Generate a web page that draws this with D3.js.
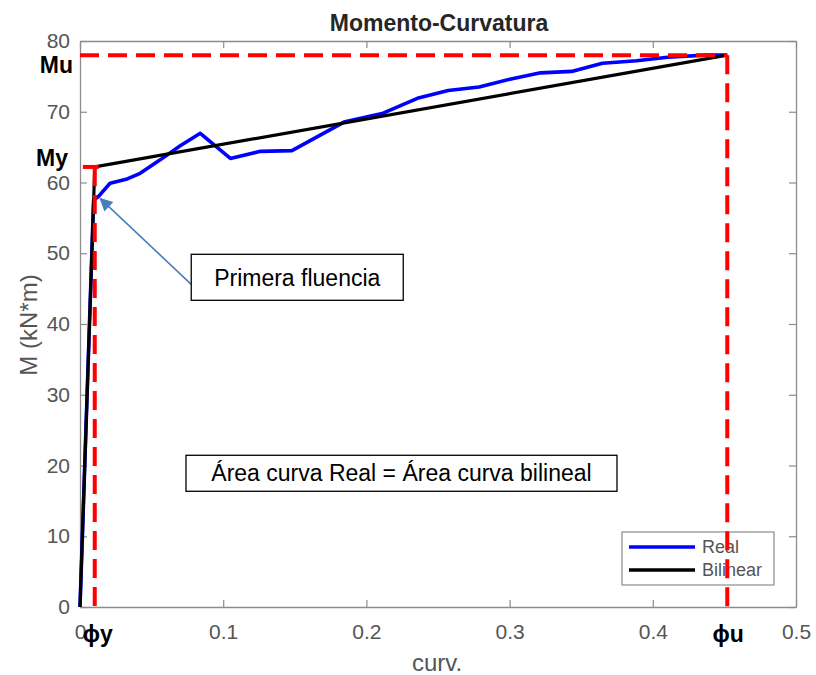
<!DOCTYPE html>
<html>
<head>
<meta charset="utf-8">
<script src="https://cdn.jsdelivr.net/npm/d3@7"></script>
<style>
  html, body { margin: 0; padding: 0; background: #fff; }
  svg { display: block; }
</style>
</head>
<body>
<svg id="chart" width="816" height="675"></svg>
<script>
// Moment–curvature response (real) and its bilinear idealisation
const realCurv = [0, 0.0095, 0.0128, 0.021, 0.033, 0.042, 0.056, 0.07, 0.084, 0.105, 0.126, 0.148,
  0.185, 0.2117, 0.2356, 0.2571, 0.2787, 0.3002, 0.3217, 0.3433, 0.3648, 0.3887, 0.4103, 0.4366, 0.452];
const realMoment = [0, 57.5, 58.0, 59.9, 60.5, 61.3, 63.2, 65.2, 66.95, 63.4, 64.4, 64.5,
  68.6, 69.8, 71.9, 73.0, 73.5, 74.6, 75.5, 75.7, 76.85, 77.2, 77.7, 78.0, 78.0];

const phiY = 0.0103, My = 62.2;   // yield point of the bilinear model
const phiU = 0.452, Mu = 78;      // ultimate point
const bilinCurv = [0, phiY, phiU];
const bilinMoment = [0, My, Mu];

const firstYield = [0.0128, 58.0]; // first yield of the real curve

const xTicks = [0, 0.1, 0.2, 0.3, 0.4, 0.5];
const yTicks = [0, 10, 20, 30, 40, 50, 60, 70, 80];

const svg = d3.select("#chart");
const m = { left: 80, top: 41, right: 20, bottom: 68 };
const W = 816 - m.left - m.right, H = 675 - m.top - m.bottom;

const x = d3.scaleLinear().domain([0, 0.5]).range([m.left, m.left + W]);
const y = d3.scaleLinear().domain([0, 80]).range([m.top + H, m.top]);

const axisGray = "#8c8c8c", labelGray = "#555";
const font = "'Liberation Sans', Arial, Helvetica, sans-serif";

// Title
svg.append("text").attr("x", x(0.25) + 1).attr("y", 31)
  .attr("text-anchor", "middle").attr("font-family", font)
  .attr("font-weight", "bold").attr("font-size", 23).attr("fill", "#262626")
  .text("Momento-Curvatura");

// Axes with inward ticks on all four sides
const tickLen = 7;
const g = svg.append("g");
const xAx = g.append("g").attr("transform", `translate(0,${y(0)})`)
  .call(d3.axisBottom(x).tickValues(xTicks).tickSizeInner(-tickLen).tickSizeOuter(0).tickPadding(0)
    .tickFormat(d => d === 0 ? "0" : d3.format(".1f")(d)));
xAx.selectAll(".tick text").attr("dy", null).attr("y", 32);
g.append("g").attr("transform", `translate(0,${y(80)})`)
  .call(d3.axisTop(x).tickValues(xTicks).tickSizeInner(-tickLen).tickSizeOuter(0).tickFormat(""));
g.append("g").attr("transform", `translate(${x(0)},0)`)
  .call(d3.axisLeft(y).tickValues(yTicks).tickSizeInner(-tickLen).tickSizeOuter(0).tickPadding(10));
g.append("g").attr("transform", `translate(${x(0.5)},0)`)
  .call(d3.axisRight(y).tickValues(yTicks).tickSizeInner(-tickLen).tickSizeOuter(0).tickFormat(""));
g.selectAll(".domain").attr("stroke", axisGray).attr("stroke-width", 1.3);
g.selectAll(".tick line").attr("stroke", axisGray).attr("stroke-width", 1.2);
g.selectAll(".tick text").attr("fill", labelGray).attr("font-family", font).attr("font-size", 21);

// Axis labels
svg.append("text").attr("x", x(0.25) - 1).attr("y", 671)
  .attr("text-anchor", "middle").attr("font-family", font).attr("font-size", 24).attr("fill", labelGray)
  .text("curv.");
svg.append("text").attr("transform", `translate(37,${y(40) + 1}) rotate(-90)`)
  .attr("text-anchor", "middle").attr("font-family", font).attr("font-size", 24).attr("fill", labelGray)
  .text("M (kN*m)");

// Curves
const line = d3.line().x(d => x(d[0])).y(d => y(d[1]));
const realPts = realCurv.map((c, i) => [c, realMoment[i]]);
const bilinPts = bilinCurv.map((c, i) => [c, bilinMoment[i]]);

svg.append("path").datum(realPts).attr("d", line)
  .attr("fill", "none").attr("stroke", "#0000ff").attr("stroke-width", 3.6).attr("stroke-linejoin", "round");
svg.append("path").datum(bilinPts).attr("d", line)
  .attr("fill", "none").attr("stroke", "#000").attr("stroke-width", 3.2).attr("stroke-linejoin", "round");

// Legend
const legend = svg.append("g").attr("transform", "translate(622,532)");
legend.append("rect").attr("width", 152).attr("height", 53).attr("fill", "#fff")
  .attr("stroke", "#8c8c8c").attr("stroke-width", 1.2);
[["Real", "#0000ff"], ["Bilinear", "#000"]].forEach(([name, col], i) => {
  const yy = 15 + i * 23;
  legend.append("line").attr("x1", 7).attr("x2", 73).attr("y1", yy).attr("y2", yy)
    .attr("stroke", col).attr("stroke-width", 3.4);
  legend.append("text").attr("x", 80).attr("y", yy + 6).attr("font-family", font)
    .attr("font-size", 18).attr("fill", labelGray).text(name);
});

// Reference lines for yield and ultimate points
const red = "#ff0000";
svg.append("line").attr("x1", x(0)).attr("x2", x(phiU)).attr("y1", y(Mu)).attr("y2", y(Mu))
  .attr("stroke", red).attr("stroke-width", 4).attr("stroke-dasharray", "19,9");
svg.append("line").attr("x1", x(phiU)).attr("x2", x(phiU)).attr("y1", y(Mu)).attr("y2", y(0))
  .attr("stroke", red).attr("stroke-width", 4).attr("stroke-dasharray", "19,9");
svg.append("line").attr("x1", x(0.002)).attr("x2", x(phiY) + 4).attr("y1", y(My)).attr("y2", y(My))
  .attr("stroke", red).attr("stroke-width", 4);
svg.append("line").attr("x1", x(phiY)).attr("x2", x(phiY)).attr("y1", y(My)).attr("y2", y(0))
  .attr("stroke", red).attr("stroke-width", 4).attr("stroke-dasharray", "19,9");

// Point labels
function label(txt, px, py, anchor) {
  svg.append("text").attr("x", px).attr("y", py).attr("text-anchor", anchor)
    .attr("font-family", font).attr("font-weight", "bold").attr("font-size", 23).attr("fill", "#000")
    .text(txt);
}
label("Mu", x(0) - 7, y(Mu) + 18, "end");
label("My", x(0) - 12, y(My) - 1, "end");
label("ϕy", x(phiY) + 3, 642, "middle");
label("ϕu", x(phiU) + 1, 642, "middle");

// Annotation: first yield
const boxA = { cx: 0.1517, cy: 46.6, w: 212, h: 46 };
const arrowCol = "#4a7ebb";
svg.append("defs").append("marker").attr("id", "arrowhead")
  .attr("markerUnits", "userSpaceOnUse").attr("viewBox", "0 0 10 10").attr("refX", 9).attr("refY", 5)
  .attr("markerWidth", 15).attr("markerHeight", 13).attr("orient", "auto")
  .append("path").attr("d", "M0,0 L10,5 L0,10 z").attr("fill", arrowCol);
svg.append("line")
  .attr("x1", x(boxA.cx) - boxA.w / 2).attr("y1", y(boxA.cy) + 7)
  .attr("x2", x(firstYield[0]) + 2).attr("y2", y(firstYield[1]) + 2)
  .attr("stroke", arrowCol).attr("stroke-width", 1.6).attr("marker-end", "url(#arrowhead)");
svg.append("rect").attr("x", x(boxA.cx) - boxA.w / 2).attr("y", y(boxA.cy) - boxA.h / 2)
  .attr("width", boxA.w).attr("height", boxA.h).attr("fill", "#fff").attr("stroke", "#000").attr("stroke-width", 1.3);
svg.append("text").attr("x", x(boxA.cx)).attr("y", y(boxA.cy) + 9)
  .attr("text-anchor", "middle").attr("font-family", font).attr("font-size", 23).attr("fill", "#000")
  .text("Primera fluencia");

// Annotation: equal areas
const boxB = { cx: 0.2245, cy: 18.9, w: 431, h: 36 };
svg.append("rect").attr("x", x(boxB.cx) - boxB.w / 2).attr("y", y(boxB.cy) - boxB.h / 2)
  .attr("width", boxB.w).attr("height", boxB.h).attr("fill", "#fff").attr("stroke", "#000").attr("stroke-width", 1.3);
svg.append("text").attr("x", x(boxB.cx)).attr("y", y(boxB.cy) + 8)
  .attr("text-anchor", "middle").attr("font-family", font).attr("font-size", 23).attr("fill", "#000")
  .text("Área curva Real = Área curva bilineal");
</script>
</body>
</html>
